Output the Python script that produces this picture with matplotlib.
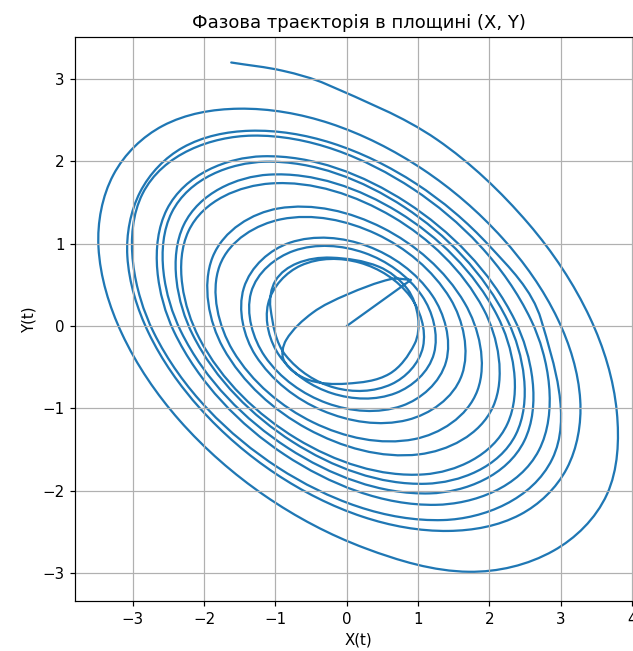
import numpy as np
import matplotlib
matplotlib.use('Agg')
import matplotlib.pyplot as plt
from matplotlib.path import Path
from matplotlib.patches import PathPatch

# traced trajectory points (X, Y), in time order
x_pts = [0.0, 0.9, 0.62, 0.0, -0.48, -0.85, -0.88, -0.55, 0.0, 0.6, 0.95, 1.0, 0.85, 0.45, -0.22, -0.7, -1.0, -1.07,
         -0.858, -0.171, 0.629, 1.069, 0.890, 0.183, -0.643, -1.103,
         -0.942, -0.208, 0.689, 1.223, 1.055, 0.248, -0.745, -1.342,
         -1.151, -0.278, 0.776, 1.393, 1.200, 0.294, -0.800, -1.444,
         -1.281, -0.344, 0.855, 1.614, 1.453, 0.418, -0.921, -1.783,
         -1.599, -0.473, 0.948, 1.833, 1.654, 0.502, -0.963, -1.882,
         -1.736, -0.553, 1.014, 2.052, 1.920, 0.647, -1.065, -2.220,
         -2.071, -0.706, 1.085, 2.253, 2.109, 0.727, -1.093, -2.287,
         -2.161, -0.763, 1.112, 2.370, 2.257, 0.809, -1.144, -2.455,
         -2.326, -0.829, 1.165, 2.489, 2.359, 0.841, -1.181, -2.523,
         -2.423, -0.875, 1.246, 2.694, 2.584, 0.932, -1.326, -2.864,
         -2.709, -0.964, 1.352, 2.881, 2.725, 1.999, 0.970, -0.212, -1.360, -2.302, -2.899,
         -3.077, -2.782, -2.056, -1.004, 0.221, 1.427, 2.434, 3.086,
         3.274, 2.959, 2.185, 1.067, -0.235, -1.514, -2.583, -3.274,
         -3.482, -3.156, -2.348, -1.151, 0.258, 1.712, 2.900, 3.649,
         3.787, 3.413, 2.549, 1.265, -0.28, -0.9, -1.62]
y_pts = [0.0, 0.56, 0.57, 0.38, 0.16, -0.17, -0.42, -0.65, -0.70, -0.58, -0.22, 0.1, 0.45, 0.72, 0.83, 0.76, 0.55, 0.22,
         -0.356, -0.749, -0.706, -0.253, 0.358, 0.769, 0.735, 0.270,
         -0.363, -0.817, -0.814, -0.334, 0.366, 0.888, 0.912, 0.406,
         -0.366, -0.937, -0.969, -0.432, 0.369, 0.969, 1.011, 0.460,
         -0.355, -1.026, -1.140, -0.595, 0.330, 1.116, 1.296, 0.731,
         -0.297, -1.170, -1.374, -0.782, 0.277, 1.192, 1.427, 0.835,
         -0.262, -1.248, -1.559, -0.979, 0.201, 1.324, 1.731, 1.151,
         -0.144, -1.367, -1.802, -1.188, 0.128, 1.381, 1.838, 1.225,
         -0.105, -1.405, -1.916, -1.319, 0.063, 1.443, 1.995, 1.377,
         -0.065, -1.479, -2.033, -1.396, 0.066, 1.499, 2.061, 1.415,
         -0.068, -1.561, -2.172, -1.510, 0.073, 1.663, 2.312, 1.606,
         -0.076, -1.719, -2.357, -1.616, 0.077, 0.974, 1.729, 2.222, 2.371, 2.166, 1.625,
         0.848, -0.078, -1.002, -1.790, -2.316, -2.489, -2.290, -1.730,
         -0.903, 0.083, 1.065, 1.902, 2.460, 2.639, 2.430, 1.834,
         0.960, -0.088, -1.144, -2.060, -2.699, -2.985, -2.729, -2.044,
         -1.044, 0.095, 1.242, 2.264, 2.934, 3.1, 3.2]

x_ticks = [-3, -2, -1, 0, 1, 2, 3, 4]
y_ticks = [-3, -2, -1, 0, 1, 2, 3]


def smooth_path(xs, ys):
    # straight first segment (to the cusp), then bezier pieces through the traced points
    pts = np.column_stack([xs, ys])
    n = len(pts)
    tang = np.zeros_like(pts)
    for i in range(1, n):
        if i == 1:
            d = pts[2] - pts[1]
        elif i == n - 1:
            d = pts[i] - pts[i - 1]
        else:
            d = pts[i + 1] - pts[i - 1]
        tang[i] = d / np.hypot(*d)
    verts = [pts[0], pts[1]]
    codes = [Path.MOVETO, Path.LINETO]
    for i in range(1, n - 1):
        L = np.hypot(*(pts[i + 1] - pts[i]))
        verts += [pts[i] + tang[i] * L / 3, pts[i + 1] - tang[i + 1] * L / 3, pts[i + 1]]
        codes += [Path.CURVE4] * 3
    return Path(verts, codes)


fig = plt.figure(figsize=(633 / 108, 651 / 108), dpi=108)
ax = fig.add_axes([0.1186, 0.0768, 0.8956, 0.8664])
ax.add_patch(PathPatch(smooth_path(x_pts, y_pts), fill=False, edgecolor='C0',
                       lw=1.5, joinstyle='round', capstyle='round'))
ax.set_xlim(-3.81, 4.14)
ax.set_ylim(-3.34, 3.51)
ax.set_xticks(x_ticks)
ax.set_yticks(y_ticks)
ax.grid(True)
ax.set_title('Фазова траєкторія в площині (X, Y)')
ax.set_xlabel('X(t)')
ax.set_ylabel('Y(t)')
fig.savefig('out.png', dpi=108)
